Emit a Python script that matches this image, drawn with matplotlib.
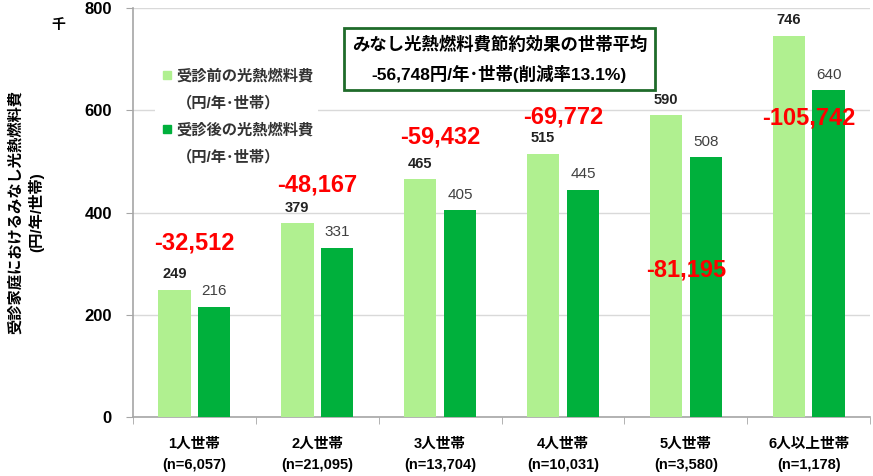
import matplotlib
matplotlib.use("Agg")
import matplotlib.pyplot as plt
import numpy as np
from matplotlib.lines import Line2D

plt.rcParams["font.family"] = ["Liberation Sans", "Noto Sans CJK JP", "DejaVu Sans"]

# data (thousand yen / year / household)
categories = ["1人世帯", "2人世帯", "3人世帯", "4人世帯", "5人世帯", "6人以上世帯"]
sample_sizes = ["n=6,057", "n=21,095", "n=13,704", "n=10,031", "n=3,580", "n=1,178"]
before = [249, 379, 465, 515, 590, 746]
after = [216, 331, 405, 445, 508, 640]
savings = ["-32,512", "-48,167", "-59,432", "-69,772", "-81,195", "-105,742"]
# vertical placement of the red savings labels (data units)
savings_y = [340, 454, 548, 587, 288, 585]

LIGHT = "#b0f090"
DARK = "#00b03c"

fig = plt.figure(figsize=(8.73, 4.76), dpi=100)
ax = fig.add_axes([0.152, 0.124, 0.845, 0.859])

x = np.arange(len(categories))
w = 0.266
off = 0.162
ax.bar(x - off, before, w, color=LIGHT, zorder=3)
ax.bar(x + off, after, w, color=DARK, zorder=3)

for xi, b, a in zip(x, before, after):
    ax.annotate(f"{b}", (xi - off, b), xytext=(0, 6), textcoords="offset points",
                ha="center", va="bottom", fontsize=10.5, fontweight="bold", color="#222222")
    ax.annotate(f"{a}", (xi + off, a), xytext=(0, 6), textcoords="offset points",
                ha="center", va="bottom", fontsize=11, color="#404040")

for xi, s, sy in zip(x, savings, savings_y):
    ax.text(xi, sy, s, ha="center", va="center", fontsize=17, fontweight="bold",
            color="#ff0000", zorder=5)

ax.set_xlim(-0.5, len(categories) - 0.5)
ax.set_ylim(0, 800)
ax.set_yticks([0, 200, 400, 600, 800])
ax.set_yticklabels(["0", "200", "400", "600", "800"], fontsize=12, fontweight="bold")
ax.yaxis.grid(True, color="#d9d9d9", lw=1, zorder=0)
ax.set_axisbelow(True)

ax.set_xticks(x)
ax.set_xticklabels([f"{c}\n({n})" for c, n in zip(categories, sample_sizes)],
                   fontsize=10.5, fontweight="bold", linespacing=1.7)
ax.set_xticks(np.arange(-0.5, len(categories)), minor=True)
ax.tick_params(axis="x", which="major", length=0, pad=14)
ax.tick_params(axis="x", which="minor", length=5, color="#a6a6a6")
ax.tick_params(axis="y", length=5, color="#a6a6a6", pad=10)

for side in ["top", "right"]:
    ax.spines[side].set_visible(False)
for side in ["left", "bottom"]:
    ax.spines[side].set_color("#a6a6a6")
    ax.spines[side].set_linewidth(1.2)

# legend: second line of each entry is its own row with an empty handle
blank = Line2D([], [], ls="none")
handles = [
    Line2D([], [], marker="s", ls="none", color=LIGHT, markersize=6), blank,
    Line2D([], [], marker="s", ls="none", color=DARK, markersize=6), blank,
]
labels = ["受診前の光熱燃料費", "（円/年･世帯）", "受診後の光熱燃料費", "（円/年･世帯）"]
leg = ax.legend(handles, labels, loc="upper left", bbox_to_anchor=(0.02, 0.882),
                frameon=True, facecolor="white", edgecolor="none", framealpha=1,
                fontsize=11, handletextpad=0.2, handlelength=0.9, labelspacing=0.82,
                borderpad=0.3)
for t in leg.get_texts():
    t.set_fontweight("bold")
    t.set_color("#333333")
leg.set_zorder(4)

ax.text(0.497, 0.875, "みなし光熱燃料費節約効果の世帯平均\n-56,748円/年･世帯(削減率13.1%)",
        transform=ax.transAxes, ha="center", va="center", fontsize=12.5,
        fontweight="bold", linespacing=1.75, zorder=6, multialignment="center",
        bbox=dict(boxstyle="square,pad=0.45", facecolor="white",
                  edgecolor="#1f6b2a", linewidth=2))

fig.text(58 / 873, 1 - 25 / 476, "千", ha="center", va="center", fontsize=10,
         fontweight="bold")
fig.text(26 / 873, 0.555, "受診家庭におけるみなし光熱燃料費\n(円/年/世帯)", rotation=90,
         ha="center", va="center", fontsize=11, fontweight="bold",
         multialignment="center", linespacing=1.4)

fig.savefig("out.png", dpi=100)
